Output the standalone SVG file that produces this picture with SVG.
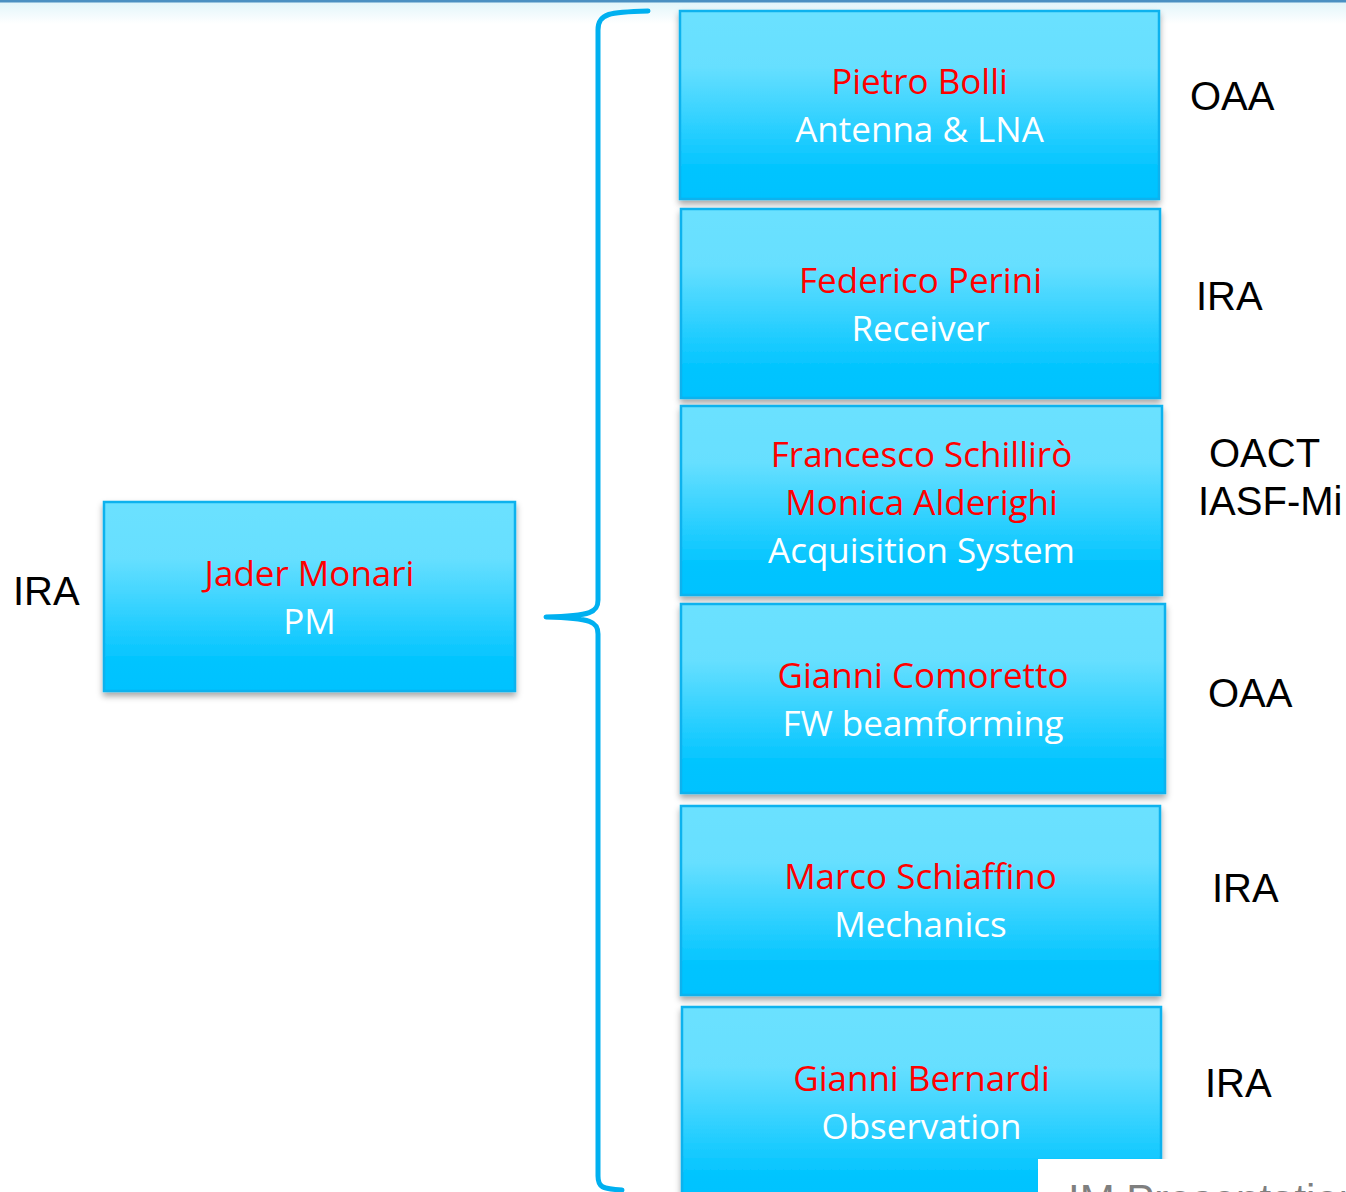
<svg xmlns="http://www.w3.org/2000/svg" width="1346" height="1192" viewBox="0 0 1346 1192">
<defs>
<linearGradient id="fill" x1="0" y1="0" x2="0" y2="1">
<stop offset="0" stop-color="#6BE1FF"/>
<stop offset="0.3" stop-color="#66DFFF"/>
<stop offset="0.85" stop-color="#00C4FF"/>
<stop offset="1" stop-color="#00C2FF"/>
</linearGradient>
<linearGradient id="topfade" x1="0" y1="0" x2="0" y2="1">
<stop offset="0" stop-color="#CDEFF7"/>
<stop offset="1" stop-color="#FFFFFF"/>
</linearGradient>
<filter id="sh" x="-5%" y="-5%" width="110%" height="115%">
<feDropShadow dx="0" dy="4" stdDeviation="3" flood-color="#000" flood-opacity="0.35"/>
</filter>
<clipPath id="footclip"><rect x="1038" y="1159" width="308" height="33"/></clipPath>
</defs>
<style>
.box{fill:url(#fill);stroke:#0FB2EE;stroke-width:2.5;filter:url(#sh)}
.name{font-family:"Open Sans","Noto Sans",sans-serif;font-size:35px;fill:#FF0000;text-anchor:middle}
.role{font-family:"Open Sans","Noto Sans",sans-serif;font-size:35px;fill:#FFFFFF;text-anchor:middle}
.org{font-family:"Liberation Sans",Arial,sans-serif;font-size:40px;fill:#000000}
</style>
<rect x="0" y="0" width="1346" height="1192" fill="#FFFFFF"/>
<rect x="0" y="2" width="1346" height="22" fill="url(#topfade)" opacity="0.6"/>
<rect x="0" y="0" width="1346" height="2.5" fill="#4A90C2"/>

<g id="connectors">
<path d="M648,11 C610,12 598,13 598,30 L598,600 C598,612 592,616 546,617 C592,618 598,622 598,634 L598,1176 C598,1187 602,1189 622,1190" fill="none" stroke="#00B0F0" stroke-width="5" stroke-linecap="round" stroke-linejoin="round"/>
</g>

<g id="node-pm">
<rect class="box" x="104" y="502" width="411" height="189"/>
<text class="name" x="309.5" y="586">Jader Monari</text>
<text class="role" x="309.5" y="634">PM</text>
</g>
<text class="org" x="13" y="605">IRA</text>

<g id="node-bolli">
<rect class="box" x="680" y="11" width="479" height="188"/>
<text class="name" x="919.5" y="94">Pietro Bolli</text>
<text class="role" x="919.5" y="142">Antenna &amp; LNA</text>
</g>
<g id="node-perini">
<rect class="box" x="681" y="209" width="479" height="189"/>
<text class="name" x="920.5" y="293">Federico Perini</text>
<text class="role" x="920.5" y="341">Receiver</text>
</g>
<g id="node-schilliro">
<rect class="box" x="681" y="406" width="481" height="189"/>
<text class="name" x="921.5" y="467">Francesco Schillirò</text>
<text class="name" x="921.5" y="515">Monica Alderighi</text>
<text class="role" x="921.5" y="563">Acquisition System</text>
</g>
<g id="node-comoretto">
<rect class="box" x="681" y="604" width="484" height="189"/>
<text class="name" x="923" y="688">Gianni Comoretto</text>
<text class="role" x="923" y="736">FW beamforming</text>
</g>
<g id="node-schiaffino">
<rect class="box" x="681" y="806" width="479" height="189"/>
<text class="name" x="920.5" y="889">Marco Schiaffino</text>
<text class="role" x="920.5" y="937">Mechanics</text>
</g>
<g id="node-bernardi">
<rect class="box" x="682" y="1007" width="479" height="200"/>
<text class="name" x="921.5" y="1091">Gianni Bernardi</text>
<text class="role" x="921.5" y="1139">Observation</text>
</g>

<g id="orgs">
<text class="org" x="1190" y="110">OAA</text>
<text class="org" x="1196" y="310">IRA</text>
<text class="org" x="1209" y="467">OACT</text>
<text class="org" x="1198" y="515">IASF-Mi</text>
<text class="org" x="1208" y="707">OAA</text>
<text class="org" x="1212" y="902">IRA</text>
<text class="org" x="1205" y="1097">IRA</text>
</g>

<g id="footer">
<rect x="1038" y="1159" width="308" height="33" fill="#FFFFFF"/>
<text x="1068" y="1214" clip-path="url(#footclip)" font-family="Liberation Sans, Arial, sans-serif" font-size="42" fill="#7F7F7F">IM Presentation</text>
</g>
</svg>
